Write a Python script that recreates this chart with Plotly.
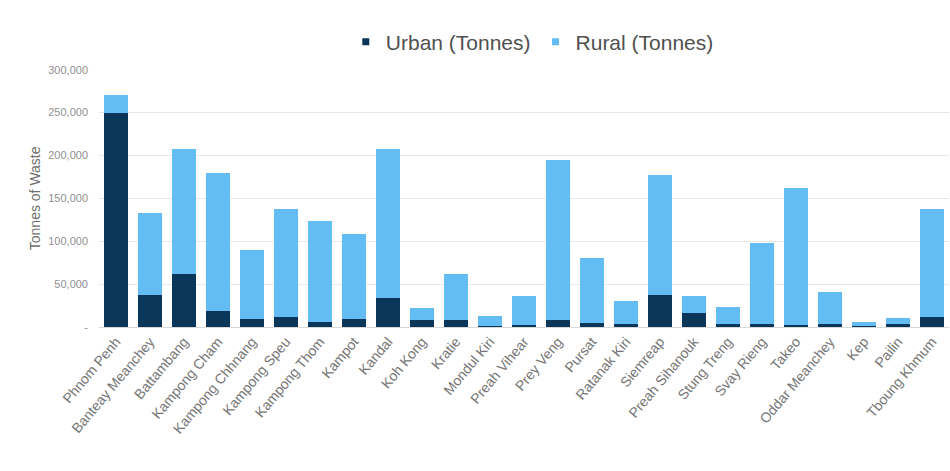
import plotly.graph_objects as go

provinces = [
    "Phnom Penh", "Banteay Meanchey", "Battambang", "Kampong Cham",
    "Kampong Chhnang", "Kampong Speu", "Kampong Thom", "Kampot", "Kandal",
    "Koh Kong", "Kratie", "Mondul Kiri", "Preah Vihear", "Prey Veng",
    "Pursat", "Ratanak Kiri", "Siemreap", "Preah Sihanouk", "Stung Treng",
    "Svay Rieng", "Takeo", "Oddar Meanchey", "Kep", "Pailin", "Tboung Khmum",
]

urban_tonnes = [
    250000, 37000, 62000, 19000, 9000, 12000, 6000, 9000, 34000,
    8000, 8000, 1000, 2000, 8000, 5000, 3000, 37000, 16000, 3000,
    3000, 2000, 4000, 1000, 3000, 12000,
]

rural_tonnes = [
    20000, 96000, 145000, 161000, 81000, 126000, 117000, 99000, 173000,
    14000, 54000, 12000, 34000, 187000, 75000, 27000, 140000, 20000, 20000,
    95000, 160000, 37000, 5000, 8000, 125000,
]

y_ticks = [0, 50000, 100000, 150000, 200000, 250000, 300000]
y_tick_text = ["-", "50,000", "100,000", "150,000", "200,000", "250,000", "300,000"]

URBAN_COLOR = "#0a365a"
RURAL_COLOR = "#63bcf4"

fig = go.Figure()
fig.add_trace(go.Bar(
    x=provinces, y=urban_tonnes, name="Urban (Tonnes)",
    marker=dict(color=URBAN_COLOR, line=dict(width=0)),
    showlegend=False,
))
fig.add_trace(go.Bar(
    x=provinces, y=rural_tonnes, name="Rural (Tonnes)",
    marker=dict(color=RURAL_COLOR, line=dict(width=0)),
    showlegend=False,
))

# small square legend keys
for name, color in [("Urban (Tonnes)", URBAN_COLOR), ("Rural (Tonnes)", RURAL_COLOR)]:
    fig.add_trace(go.Scatter(
        x=[None], y=[None], mode="markers", name=name,
        marker=dict(symbol="square", size=7, color=color),
    ))

fig.update_layout(
    barmode="stack",
    bargap=0.27,
    width=950, height=471,
    margin=dict(l=99, r=1, t=68, b=144),
    paper_bgcolor="white",
    plot_bgcolor="white",
    font=dict(family="Liberation Sans, Arial, sans-serif", color="#595959"),
    legend=dict(
        orientation="h",
        xref="container", yref="container",
        x=0.364, xanchor="left",
        y=1 - 42 / 471, yanchor="middle",
        font=dict(size=21, color="#505050"),
        traceorder="normal",
        itemwidth=30,
    ),
    showlegend=True,
)

fig.update_xaxes(
    tickangle=-50,
    tickfont=dict(size=14, color="#767676"),
    showgrid=False,
    showline=True, linecolor="#d9d9d9", linewidth=1,
    ticks="",
)
fig.update_yaxes(
    range=[0, 300000],
    tickvals=y_ticks, ticktext=y_tick_text,
    tickfont=dict(size=11, color="#909090"),
    ticklabelstandoff=10,
    showgrid=True, gridcolor="#e6e6e6", gridwidth=1,
    zeroline=False,
    title=dict(text="Tonnes of Waste", font=dict(size=14, color="#707070"), standoff=4),
    ticks="",
)

fig.write_html("out.html")
